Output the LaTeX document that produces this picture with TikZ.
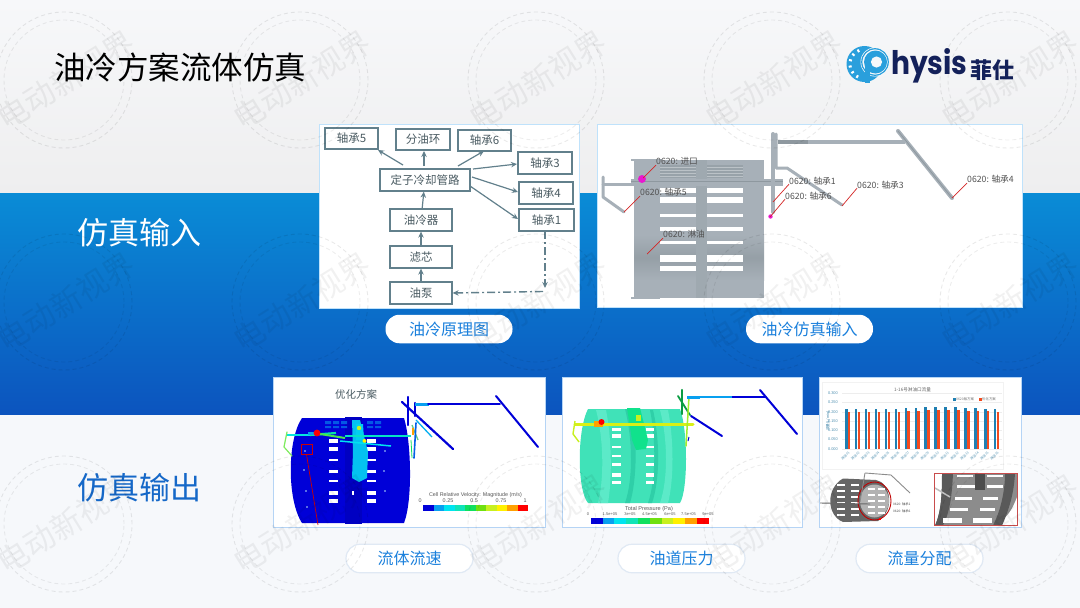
\documentclass[tikz,border=0pt]{standalone}
\usepackage{fontspec}
\setmainfont{Noto Sans CJK SC}
\newfontfamily\latinf{Liberation Sans}
\newfontfamily\logof{Poppins}
\usetikzlibrary{arrows.meta,calc,shapes.geometric}
\definecolor{bandtop}{HTML}{0A8CD6}
\definecolor{bandbot}{HTML}{0C54BE}
\definecolor{pillblue}{HTML}{1A80DC}
\definecolor{outblue}{HTML}{1568C8}
\definecolor{panelb}{HTML}{BFE2FB}
\definecolor{panelc}{HTML}{B5D4F5}
\definecolor{pillrim}{HTML}{E0E9F4}
\definecolor{boxl}{HTML}{62808C}
\definecolor{boxt}{HTML}{4A5B62}
\definecolor{steel}{HTML}{A7B0B8}
\definecolor{steeld}{HTML}{8E989F}
\definecolor{navy}{HTML}{14215A}
\definecolor{logob}{HTML}{2A9FDC}
\definecolor{cA}{HTML}{0000D8}
\definecolor{cB}{HTML}{08A0F0}
\definecolor{cC}{HTML}{00E4F0}
\definecolor{cD}{HTML}{10E4B8}
\definecolor{cE}{HTML}{10E060}
\definecolor{cF}{HTML}{70E010}
\definecolor{cG}{HTML}{C8F020}
\definecolor{cH}{HTML}{FFF000}
\definecolor{cI}{HTML}{FFA000}
\definecolor{cJ}{HTML}{FF0000}
\definecolor{teal}{HTML}{40E2B8}
\definecolor{tealdk}{HTML}{2FCFA8}
\definecolor{teallt}{HTML}{5CEAC8}
\definecolor{barb}{HTML}{1F7FB2}
\definecolor{barr}{HTML}{F24A1E}
\definecolor{mag}{HTML}{E818D0}
\definecolor{bgtop}{HTML}{F7F8FA}
\definecolor{bgmid}{HTML}{EEEEEF}
\definecolor{bglow}{HTML}{F6F8FB}
\tikzset{
  panelbox/.style={fill=white,draw=panelb,line width=1pt},
  panelboxb/.style={fill=white,draw=panelc,line width=1.2pt},
  pill/.style={fill=white,rounded corners=14pt,minimum height=28.5pt,minimum width=127pt,inner sep=0pt,text=pillblue,font=\fontsize{16}{16}\selectfont},
  pillb/.style={pill,draw=pillrim,line width=1.2pt},
  headl/.style={font=\fontsize{31}{31}\selectfont,inner sep=0pt},
  flow/.style={draw=boxl,line width=1.3pt,text=boxt,font=\fontsize{11.5}{11.5}\selectfont,inner sep=0pt,anchor=center},
  arr/.style={draw=boxl,line width=1.2pt,-{Stealth[length=6pt,width=5.5pt]}},
  cae/.style={text=black!68,font=\fontsize{8.7}{8.7}\selectfont,inner sep=0pt,anchor=west},
  leader/.style={draw=red!80!black!85,line width=.7pt},
  legt/.style={text=black!65,inner sep=0pt,font=\latinf\fontsize{5.4}{5.4}\selectfont},
  pipe/.style={line cap=round,line join=round},
}
\newcommand{\slotcol}[3]{\foreach \ya/\yb in {#3}{\fill[white] (#1,\ya) rectangle (#2,\yb);}}
\newcommand{\wmark}[2]{%
  \node[rotate=32,text=black,opacity=.055,font=\fontsize{31}{31}\selectfont,inner sep=0pt] at (#1,#2) {电动新视界};
  \draw[black,opacity=.085,dashed,line width=.9pt,dash pattern=on 4pt off 3pt] (#1-2,#2) circle (68pt);
  \draw[black,opacity=.07,dashed,line width=.9pt,dash pattern=on 4pt off 3pt] (#1-2,#2) circle (60pt);
}
\newcommand{\legbar}[4]{%
  \foreach \c [count=\i from 0] in {cA,cB,cC,cD,cE,cF,cG,cH,cI,cJ}{
    \fill[\c] ({#1+\i*#3},#2) rectangle ({#1+(\i+1)*#3+.1},#2+#4);}
}
\begin{document}
\begin{tikzpicture}[x=1pt,y=-1pt]
\useasboundingbox (0,0) rectangle (1080,608);
% background
\shade[top color=bgtop,bottom color=bgmid] (0,0) rectangle (1080,194);
\fill[bglow] (0,414) rectangle (1080,608);
\shade[top color=bandtop,bottom color=bandbot] (0,193) rectangle (1080,414.5);
% heads
\node[anchor=west,inner sep=0pt,font=\fontsize{31.5}{31.5}\selectfont,text=black] (title) at (54,67) {油冷方案流体仿真};
\node[headl,anchor=west,text=white] (inhead) at (77,233) {仿真输入};
\node[headl,anchor=west,text=outblue] (outhead) at (77,488) {仿真输出};
% logo
\fill[logob] (864.5,64) circle (18pt);
\fill[bgtop] (875,62) circle (14.5pt);
\draw[logob,line width=1.3pt] (875,62) circle (13.2pt);
\fill[bgtop] (875,62) circle (12.4pt);
\fill[logob] (875.5,62) circle (11.5pt);
\fill[bgtop] (876.5,62) circle (5.6pt);
\fill[logob] (864.5,60) rectangle (870,83);
\foreach \a in {115,140,165,190,215,240}{\draw[white,line width=2pt] ($(864.5,64)+(\a:13pt)$) -- ($(864.5,64)+(\a:16pt)$);}
\node[anchor=west,inner sep=0pt,text=navy,font=\logof\bfseries\fontsize{29}{29}\selectfont] (logotxt) at (891,65.5) {\scalebox{.97}[1.12]{hysis}};
\node[anchor=west,inner sep=0pt,text=navy,font=\bfseries\fontsize{22}{22}\selectfont] (logocn) at (970,70) {菲仕};
%%%%% panel 1
\node[panelbox,anchor=north west,minimum width=260pt,minimum height=184pt,inner sep=0pt] (p1) at (319,124) {};
\node[flow,minimum width=53pt,minimum height=21pt] (b5) at (351.5,138.5) {轴承5};
\node[flow,minimum width=54pt,minimum height=21pt] (fy) at (423,139.5) {分油环};
\node[flow,minimum width=53pt,minimum height=21pt] (b6) at (484.5,140.5) {轴承6};
\node[flow,minimum width=54pt,minimum height=22pt] (b3) at (545,163) {轴承3};
\node[flow,minimum width=54pt,minimum height=22pt] (b4) at (546,193) {轴承4};
\node[flow,minimum width=55pt,minimum height=22pt] (b1) at (546.5,220) {轴承1};
\node[flow,minimum width=90pt,minimum height=22pt] (st) at (425,180) {定子冷却管路};
\node[flow,minimum width=62pt,minimum height=22pt] (oc) at (421,220) {油冷器};
\node[flow,minimum width=62pt,minimum height=22pt] (lx) at (421,257) {滤芯};
\node[flow,minimum width=62pt,minimum height=22pt] (yb) at (421,293) {油泵};
\coordinate (s5) at (403,165); \coordinate (sf) at (424,166); \coordinate (s6) at (458,166);
\coordinate (e5) at (378,150); \coordinate (ef) at (424,151); \coordinate (e6) at (484,151);
\coordinate (s3) at (473,169); \coordinate (e3) at (517,164);
\coordinate (s4) at (472,177); \coordinate (e4) at (518,192);
\coordinate (s1) at (470,186); \coordinate (e1) at (518,219);
\draw[arr] (s5) -- (e5);
\draw[arr] (sf) -- (ef);
\draw[arr] (s6) -- (e6);
\draw[arr] (s3) -- (e3);
\draw[arr] (s4) -- (e4);
\draw[arr] (s1) -- (e1);
\draw[arr] (oc) -- (st);
\draw[arr] (lx) -- (oc);
\draw[arr] (yb) -- (lx);
\coordinate (dc) at (545,288); \coordinate (dd) at (543,291.5); \coordinate (db) at (545,231);
\draw[arr,line width=1.4pt,dash pattern=on 8pt off 3pt on 2pt off 3pt] (db) -- (dc);
\draw[arr,line width=1.4pt,dash pattern=on 8pt off 3pt on 2pt off 3pt] (dd) -- (yb.east);
\node[pill] (l1) at (449,329) {油冷原理图};
%%%%% panel 2
\node[panelbox,anchor=north west,minimum width=425pt,minimum height=183pt,inner sep=0pt] (p2) at (597,124) {};
\begin{scope}
\fill[steel] (634,160) rectangle (764,298);
\shade[top color=steel,bottom color=steel,middle color=steeld!70!steel] (634,235) rectangle (764,280);
\fill[steel] (631,159) rectangle (662,161);
\fill[steel] (631,297) rectangle (660,299);
\fill[steeld!60!steel] (660,165) rectangle (696,178);
\fill[steeld!60!steel] (707,165) rectangle (743,178);
\foreach \y in {167,170,173,176}{\draw[white,opacity=.35,line width=.6pt] (660,\y) -- (696,\y) (707,\y) -- (743,\y);}
\slotcol{660}{696}{188/193,197/203,214/217,227/231,241/244,255/262,266/271}
\slotcol{707}{743}{188/193,197/203,214/217,227/231,241/244,255/262,266/271}
\fill[steeld!30!steel] (696,160) rectangle (707,298);
% pipes
\draw[steel,pipe,line width=3pt] (603,177) -- (603,197) -- (624,212);
\draw[steel,pipe,line width=3pt] (603,184) -- (640,184);
\fill[steel] (631,179) rectangle (783,186);
\draw[steeld,line width=.5pt] (631,181) -- (783,181);
\draw[steel,pipe,line width=4pt] (773,134) -- (773,212);
\draw[steel,pipe,line width=3pt] (776,134) -- (776,168) -- (787,168) -- (842,205);
\draw[steel,line width=4pt] (778,142) -- (905,142);
\draw[steeld,line width=4pt] (778,142) -- (808,142);
\draw[steel,pipe,line width=4pt] (898,131) -- (952,198);
\draw[steeld,pipe,line width=.8pt] (898,131) -- (952,198);
\fill[mag] (642,179) circle (4pt);
\fill[mag] (770.5,216.5) circle (2.2pt);
\end{scope}
\node[cae] (c1) at (656,161) {0620: 进口};
\node[cae] (c5) at (640,192) {0620: 轴承5};
\node[cae] (c2) at (789,181) {0620: 轴承1};
\node[cae] (c6) at (785,196) {0620: 轴承6};
\node[cae] (c3) at (857,185) {0620: 轴承3};
\node[cae] (c4) at (967,179) {0620: 轴承4};
\node[cae] (c7) at (663,234) {0620: 淋油};
\coordinate (e1a) at (643,178); \coordinate (e5a) at (624,212); \coordinate (e2a) at (773,202);
\coordinate (e6a) at (770,217); \coordinate (e3a) at (842,206); \coordinate (e4a) at (952,198); \coordinate (e7a) at (647,254);
\draw[leader] (c1.south west) -- (e1a);
\draw[leader] (c5.south west) -- (e5a);
\draw[leader] ([yshift=1pt]c2.south west) -- (e2a);
\draw[leader] ([yshift=1pt]c6.south west) -- (e6a);
\draw[leader] ([yshift=1pt]c3.south west) -- (e3a);
\draw[leader] (c4.south west) -- (e4a);
\draw[leader] (c7.south west) -- (e7a);
\node[pill] (l2) at (809.5,329) {油冷仿真输入};
%%%%% panel 3
\node[panelboxb,anchor=north west,minimum width=272pt,minimum height=150pt,inner sep=0pt] (p3) at (273,377) {};
\node[inner sep=0pt,text=boxt,font=\fontsize{10.5}{10.5}\selectfont] (t3) at (356,394) {优化方案};
\fill[cA] (302,418) -- (404,418) .. controls (411,440) and (413,500) .. (404,523) -- (302,523) .. controls (287,500) and (287,440) .. (302,418) -- cycle;
\fill[cA!90!black] (345,417) rectangle (362,524);
\foreach \x in {325,333,341,367,375}{\fill[cB!55!cA] (\x,421) rectangle (\x+6,424) (\x,426) rectangle (\x+6,428);}
\slotcol{329}{338}{439/443,447/451,459/461,470/473,480/482,491/495,499/503}
\slotcol{367}{376}{439/443,447/451,459/461,470/473,480/482,491/495,499/503}
\slotcol{352}{354}{491/495}
\fill[cB!50!cC] (352,420) -- (360,420) -- (368,452) -- (367,478) -- (359,482) -- (352,478) -- (353,452) -- cycle;
\fill[cC!70!cB] (356,424) -- (363,424) -- (364,440) -- (356,440) -- cycle;
\fill[cG] (359,428) circle (2.2pt);
\fill[cH] (364.5,441) circle (2pt);
\foreach \x/\y in {305/451,304/470,306/491,307/507,385/451,384/471,385/491}{\fill[white!70!cB] (\x,\y) circle (.9pt);}
\draw[cC!70!cD,line width=2pt] (287,435) -- (310,435);
\draw[cC!50!cE,line width=2.2pt] (310,435) -- (336,433);
\draw[cB,line width=3pt] (308,433) -- (318,433);
\draw[cE!70!cG,line width=2pt] (320,434) -- (345,438);
\draw[cC,line width=1.5pt] (340,441) -- (391,446);
\draw[cC!70!cE,line width=2pt] (345,436) -- (411,436);
\fill[cJ] (317,433) circle (3.4pt);
\draw[cG!60!cD,pipe,line width=1.2pt] (287,432) -- (284,447) -- (292,456);
\draw[cA,pipe,line width=2.4pt] (408,397) -- (408,425);
\draw[cA,pipe,line width=2.2pt] (415,403) -- (415,416);
\draw[cA,pipe,line width=2.2pt] (402,402) -- (453,449);
\draw[cB!80!cC,line width=1.3pt] (416,420) -- (432,437);
\draw[cG!50!cB,line width=1.3pt] (412,425) -- (418,440);
\draw[cE,line width=.8pt] (411,440) -- (412,458);
\draw[cB!60!cA,pipe,line width=1.6pt] (416,423) -- (414,458);
\draw[cB,line width=3pt] (415,404) -- (429,404);
\draw[cA,pipe,line width=1.8pt] (428,404) -- (500,404);
\draw[cA,pipe,line width=2pt] (496,396) -- (538,447);
\draw[cI,line width=1.5pt] (413,428) -- (413,435);
\draw[red!80!black,line width=.6pt] (301,444) rectangle (312.5,454.5);
\coordinate (rb) at (306.5,454.5); \coordinate (rc) at (318,525);
\draw[red!80!black,line width=.7pt] (rb) -- (rc);
\node[legt] (lt3) at (475.5,495.5) {Cell Relative Velocity: Magnitude (m/s)};
\foreach \lb/\x in {0/420,0.25/448,0.5/474,0.75/501,1/525}{\node[legt] at (\x,501) {\lb};}
\legbar{423.3}{505}{10.5}{6}
\node[pillb] (l3) at (409.5,558.5) {流体流速};
%%%%% panel 4
\node[panelboxb,anchor=north west,minimum width=240pt,minimum height=150pt,inner sep=0pt] (p4) at (562,377) {};
\fill[teal] (588,409) -- (680,409) .. controls (688,430) and (688,490) .. (680,503) -- (588,503) .. controls (577,490) and (577,430) .. (588,409) -- cycle;
\fill[teallt] (596,410) .. controls (604,440) and (604,480) .. (598,503) -- (608,503) .. controls (612,480) and (612,440) .. (606,410) -- cycle;
\fill[teallt] (660,410) .. controls (668,440) and (668,480) .. (660,503) -- (668,503) .. controls (674,480) and (674,440) .. (668,410) -- cycle;
\fill[tealdk] (625,409) -- (633,409) .. controls (637,440) and (637,480) .. (630,503) -- (625,503) .. controls (633,480) and (633,440) .. (625,409);
\fill[tealdk] (653,410) .. controls (660,440) and (660,480) .. (652,503) -- (648,503) .. controls (656,480) and (656,440) .. (650,410) -- cycle;
\slotcol{612}{621}{428/431,434/438,446/448,455/457,463/466,473/477,481/484}
\slotcol{646}{654}{428/431,434/438,446/448,455/457,463/466,473/477,481/484}
\fill[cE!50!cD] (627,408) -- (640,408) -- (648,440) -- (646,449) -- (636,450) -- (632,440) -- cycle;
\draw[cG!70!cH,pipe,line width=3pt] (575,424) -- (693,424);
\draw[cG,line width=1.4pt] (575,421) -- (573,434) -- (579,442);
\fill[cI] (594,421) rectangle (603,427);
\fill[cG] (636,415) rectangle (641,421);
\fill[cJ] (601.5,422) circle (3pt);
\draw[cA,pipe,line width=2pt] (691,416) -- (722,436);
\draw[cE!70!black,pipe,line width=2.2pt] (682,390) -- (682,414);
\draw[cE!70!black,pipe,line width=1.8pt] (678,396) -- (690,415);
\draw[cG!80!cE,pipe,line width=1.5pt] (689,397) -- (686,446);
\draw[cA,line width=1pt] (689,437) -- (688,441);
\draw[cB,line width=3pt] (687,397) -- (700,397);
\draw[cB,line width=2pt] (700,397) -- (732,397);
\draw[cA,line width=2.2pt] (732,397) -- (765,397);
\draw[cA,pipe,line width=2pt] (760,390) -- (797,434);
\node[legt,font=\latinf\fontsize{5.6}{5.6}\selectfont] (lt4) at (649,509.5) {Total Pressure (Pa)};
\foreach \lb/\x in {0/588,1.5e+05/610,3e+05/630,4.5e+05/649.5,6e+05/670,7.5e+05/688.5,9e+05/708}{\node[legt,font=\latinf\fontsize{4}{4}\selectfont] at (\x,514.5) {\lb};}
\legbar{590.7}{518.3}{11.8}{5.7}
\node[pillb] (l4) at (681.5,558.5) {油道压力};
%%%%% panel 5
\node[panelboxb,anchor=north west,minimum width=202pt,minimum height=150pt,inner sep=0pt] (p5) at (819,377) {};
\draw[black!5,line width=.4pt] (822,382) rectangle (1003,469);
\node[inner sep=0pt,text=black!60,font=\fontsize{4.6}{4.6}\selectfont] (t5) at (912.5,389.5) {1-16号淋油口流量};
\foreach \lb/\y in {0.300/393.3,0.250/402.5,0.200/411.7,0.150/421,0.100/430.3,0.050/439.6,0.000/449}{
  \node[legt,text=cB!60!black!70,font=\latinf\fontsize{3.9}{3.9}\selectfont,anchor=east] at (838,\y) {\lb};
  \draw[black!7,line width=.3pt] (842,\y) -- (1002,\y);}
\node[legt,rotate=90,text=cB!60!black!80,font=\fontsize{3.6}{3.6}\selectfont] (ya) at (828,421) {流量(L/min)};
\foreach \i/\hb/\hr/\lab in {0/408.8/411.7/01,1/408.8/411.7/02,2/408.8/411.7/03,3/408.8/411.7/04,4/408.6/411.5/05,5/408.6/411.5/06,6/408.3/411/07,7/408.3/411/08,8/407.4/410/09,9/407/410/10,10/407.2/410/11,11/407.4/410/12,12/408/411/13,13/408.3/411/14,14/408.5/411.3/15,15/408.7/411.5/16}{
  \pgfmathsetmacro\xa{845+9.93*\i}
  \fill[barb] (\xa,\hb) rectangle (\xa+2.5,449);
  \fill[barr] (\xa+2.9,\hr) rectangle (\xa+5.4,449);
  \pgfmathsetmacro\xb{\xa+3}
  \node[rotate=45,anchor=north east,inner sep=0pt,text=cB!60!black!60,font=\fontsize{3.4}{3.4}\selectfont] at (\xb,451) {淋油\lab};
}
\fill[barb] (953,398) rectangle (955.5,400.5);
\node[legt,text=black!55,font=\fontsize{3.4}{3.4}\selectfont,anchor=west] (lg1) at (956,399.3) {0620版方案};
\fill[barr] (979,398) rectangle (981.5,400.5);
\node[legt,text=black!55,font=\fontsize{3.4}{3.4}\selectfont,anchor=west] (lg2) at (982,399.3) {优化方案};
% bottom-left rings
\fill[black!60] (843,478.5) -- (876,480) .. controls (890,482) and (896,510) .. (878,521) -- (843,522) .. controls (826,515) and (826,488) .. (843,478.5) -- cycle;
\fill[black!30] (874.5,501) ellipse (14.5pt and 16.5pt);
\foreach \xx in {837,851}{\foreach \yy in {484,490,496,502,508,514}{\fill[white] (\xx,\yy) rectangle (\xx+8,\yy+2);}}
\foreach \xx in {868,878}{\foreach \yy in {488,494,500,506,512}{\fill[white] (\xx,\yy) rectangle (\xx+7,\yy+2.4);}}
\draw[red!75!black,line width=.9pt] (874.5,501) ellipse (16.5pt and 19pt);
\fill[red] (879,518) rectangle (881,519.5);
\draw[black!60,line width=.9pt] (820,503) -- (870,504);
\coordinate (ra) at (865,473); \coordinate (rd) at (891,475); \coordinate (re) at (910,493);
\draw[black!45,line width=.9pt] (ra) -- (rd) -- (re);
\draw[black!45,line width=.9pt] (860,502) -- (ra);
\node[inner sep=0pt,text=black!70,font=\fontsize{3.2}{3.2}\selectfont,anchor=west] (a1) at (893,504) {0620: 轴承1};
\node[inner sep=0pt,text=black!70,font=\fontsize{3.2}{3.2}\selectfont,anchor=west] (a2) at (893,511) {0620: 轴承6};
% inset
\fill[black!45] (934.5,473.5) rectangle (1017.5,525.5);
\fill[white] (934.5,473.5) -- (942,473.5) .. controls (942,495) and (941,512) .. (935,525.5) -- (934.5,525.5) -- cycle;
\fill[white] (1017.5,496) .. controls (1012,510) and (1008,518) .. (994,525.5) -- (1017.5,525.5) -- cycle;
\fill[black!65] (942,473.5) -- (953,473.5) .. controls (952,495) and (950,512) .. (943,525.5) -- (935,525.5) .. controls (941,512) and (942,495) .. (942,473.5) -- cycle;
\fill[black!65] (1005,473.5) -- (1015,473.5) .. controls (1014,490) and (1011,505) .. (1002,525.5) -- (993,525.5) .. controls (1001,510) and (1005,490) .. (1005,473.5) -- cycle;
\fill[black!70] (975,473.5) rectangle (985,490);
\fill[white] (957,475) rectangle (973,477);
\fill[white] (987,475) rectangle (1003,477);
\fill[white] (957,485) rectangle (975,487.5);
\fill[white] (987,485) rectangle (1003,487.5);
\fill[white] (955,497) rectangle (972,500);
\fill[white] (983,497) rectangle (998,500);
\fill[white] (950,508) rectangle (968,511);
\fill[white] (980,508) rectangle (995,511);
\fill[white] (943,518) rectangle (962,523);
\fill[white] (973,518) rectangle (992,523);
\draw[black!25,line width=1.5pt] (935,488) -- (950,497);
\draw[red!70!black!70,line width=.8pt] (934.5,473.5) rectangle (1017.5,525.5);
\node[pillb] (l5) at (919.5,558.5) {流量分配};
%%%%% watermark
\foreach \j in {0,1,2}{\foreach \i in {0,...,4}{
  \pgfmathsetmacro\cx{66+236*\i}\pgfmathsetmacro\cy{80+222*\j}
  \wmark{\cx}{\cy}
}}
\end{tikzpicture}
\end{document}
